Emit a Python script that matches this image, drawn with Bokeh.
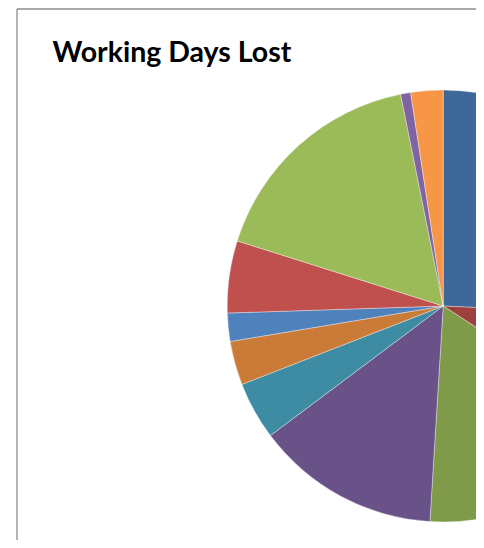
import math
from bokeh.plotting import figure
from bokeh.models import Range1d, ColumnDataSource
from bokeh.core.properties import value
from bokeh.embed import file_html
from bokeh.resources import INLINE

# Slices, clockwise from 12 o'clock (share of working days lost, %)
categories = ["A", "B", "C", "D", "E", "F", "G", "H", "I", "J", "K"]
shares = [25.75, 8.42, 16.81, 13.78, 4.33, 3.28, 2.11, 5.39, 16.97, 0.75, 2.41]
colors = ["#3F689A", "#9E413E", "#7F9A48", "#695287", "#3D8CA3", "#CB7B38",
          "#4F81BD", "#C0504D", "#9BBB59", "#8064A2", "#F79646"]
title_text = "Working Days Lost"

total = sum(shares)
starts, ends = [], []
cum = 0.0
for s in shares:
    a = cum / total * 2 * math.pi
    cum += s
    b = cum / total * 2 * math.pi
    starts.append(math.pi / 2 - b)
    ends.append(math.pi / 2 - a)

src = ColumnDataSource(dict(cat=categories, share=shares, color=colors,
                            start=starts, end=ends))

W, H = 476, 540
p = figure(width=W, height=H, output_backend="svg", toolbar_location=None,
           x_range=Range1d(0, W), y_range=Range1d(0, H),
           min_border_left=0, min_border_right=0, min_border_top=0, min_border_bottom=0)
p.axis.visible = False
p.grid.visible = False
p.outline_line_color = None
p.background_fill_color = "white"
p.border_fill_color = "white"

cx, cy, r = 442.7, H - 305.5, 216
p.wedge(x=cx, y=cy, radius=r, start_angle="start", end_angle="end",
        fill_color="color", line_color="white", line_alpha=0.6, line_width=0.6,
        source=src)

# chart frame (top and left edges only; the rest is cut off)
fx, fy = 16.5, H - 8.5
p.segment(x0=[fx, fx], y0=[fy, fy], x1=[W + 5, fx], y1=[fy, -5],
          line_color="#8C8C8C", line_width=1.3)

p.text(x=[52], y=[H - 50], text=[title_text], text_font=value("Lato"),
       text_font_style="bold", text_font_size="28.5px", text_color="black",
       text_baseline="alphabetic", text_align="left")

open("out.html", "w").write(file_html(p, INLINE))
